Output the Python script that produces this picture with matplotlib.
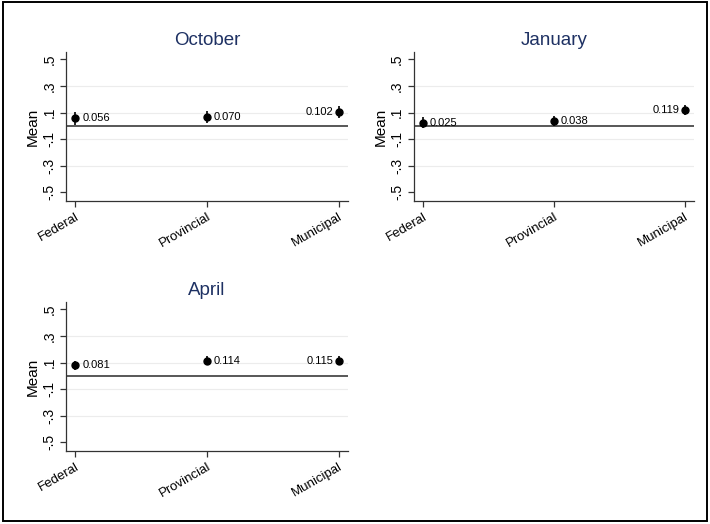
import matplotlib.pyplot as plt
from matplotlib.patches import Rectangle

plt.rcParams['font.family'] = ['Liberation Sans', 'DejaVu Sans']

levels = ["Federal", "Provincial", "Municipal"]
months = ["October", "January", "April"]

# means per month (Federal, Provincial, Municipal)
oct_mean = [0.056, 0.070, 0.102]
jan_mean = [0.025, 0.038, 0.119]
apr_mean = [0.081, 0.114, 0.115]

# half-width of the confidence interval
oct_ci = [0.047, 0.045, 0.046]
jan_ci = [0.038, 0.036, 0.038]
apr_ci = [0.034, 0.034, 0.036]

yticks = [-0.5, -0.3, -0.1, 0.1, 0.3, 0.5]
ytick_labels = ["-.5", "-.3", "-.1", ".1", ".3", ".5"]

title_col = "#1e3163"
axis_col = "#333333"

fig = plt.figure(figsize=(7.1, 5.24), dpi=100)
fig.patches.append(Rectangle((0.004, 0.006), 0.992, 0.99, transform=fig.transFigure,
                             fill=False, edgecolor="black", linewidth=1.4))

boxes = [
    [0.093, 0.6164, 0.397, 0.2844],
    [0.583, 0.6164, 0.394, 0.2844],
    [0.093, 0.1393, 0.397, 0.2844],
]
panels = [(oct_mean, oct_ci), (jan_mean, jan_ci), (apr_mean, apr_ci)]

for box, month, (means, cis) in zip(boxes, months, panels):
    ax = fig.add_axes(box)
    x = [1, 2, 3]
    for g in [-0.3, -0.1, 0.1, 0.3]:
        ax.axhline(g, color="#ececec", lw=0.8, zorder=0)
    ax.axhline(0, color="#4a4a4a", lw=1.3, zorder=1)
    ax.errorbar(x, means, yerr=cis, fmt="o", color="black", ms=5,
                elinewidth=1.2, capsize=0, zorder=3)
    for i, (xi, m) in enumerate(zip(x, means)):
        if i < 2:
            ax.annotate(f"{m:.3f}", (xi, m), xytext=(5, 0), textcoords="offset points",
                        ha="left", va="center", fontsize=8)
        else:
            ax.annotate(f"{m:.3f}", (xi, m), xytext=(-3.5, 0), textcoords="offset points",
                        ha="right", va="center", fontsize=8)

    ax.set_xlim(0.93, 3.07)
    ax.set_ylim(-0.565, 0.555)
    ax.set_yticks(yticks)
    ax.set_yticklabels(ytick_labels, rotation=90, va="center", fontsize=10)
    ax.set_xticks(x)
    ax.set_xticklabels(levels, rotation=30, ha="right", va="top",
                       rotation_mode="anchor", fontsize=9.5)
    ax.set_ylabel("Mean", fontsize=11, labelpad=2)
    ax.set_title(month, fontsize=13.5, color=title_col, pad=5)

    for side in ["top", "right"]:
        ax.spines[side].set_visible(False)
    for side in ["left", "bottom"]:
        ax.spines[side].set_color(axis_col)
        ax.spines[side].set_linewidth(0.9)
    ax.tick_params(axis="both", direction="out", length=4, width=0.9, color=axis_col, pad=3)

fig.savefig("out.png", dpi=100)
